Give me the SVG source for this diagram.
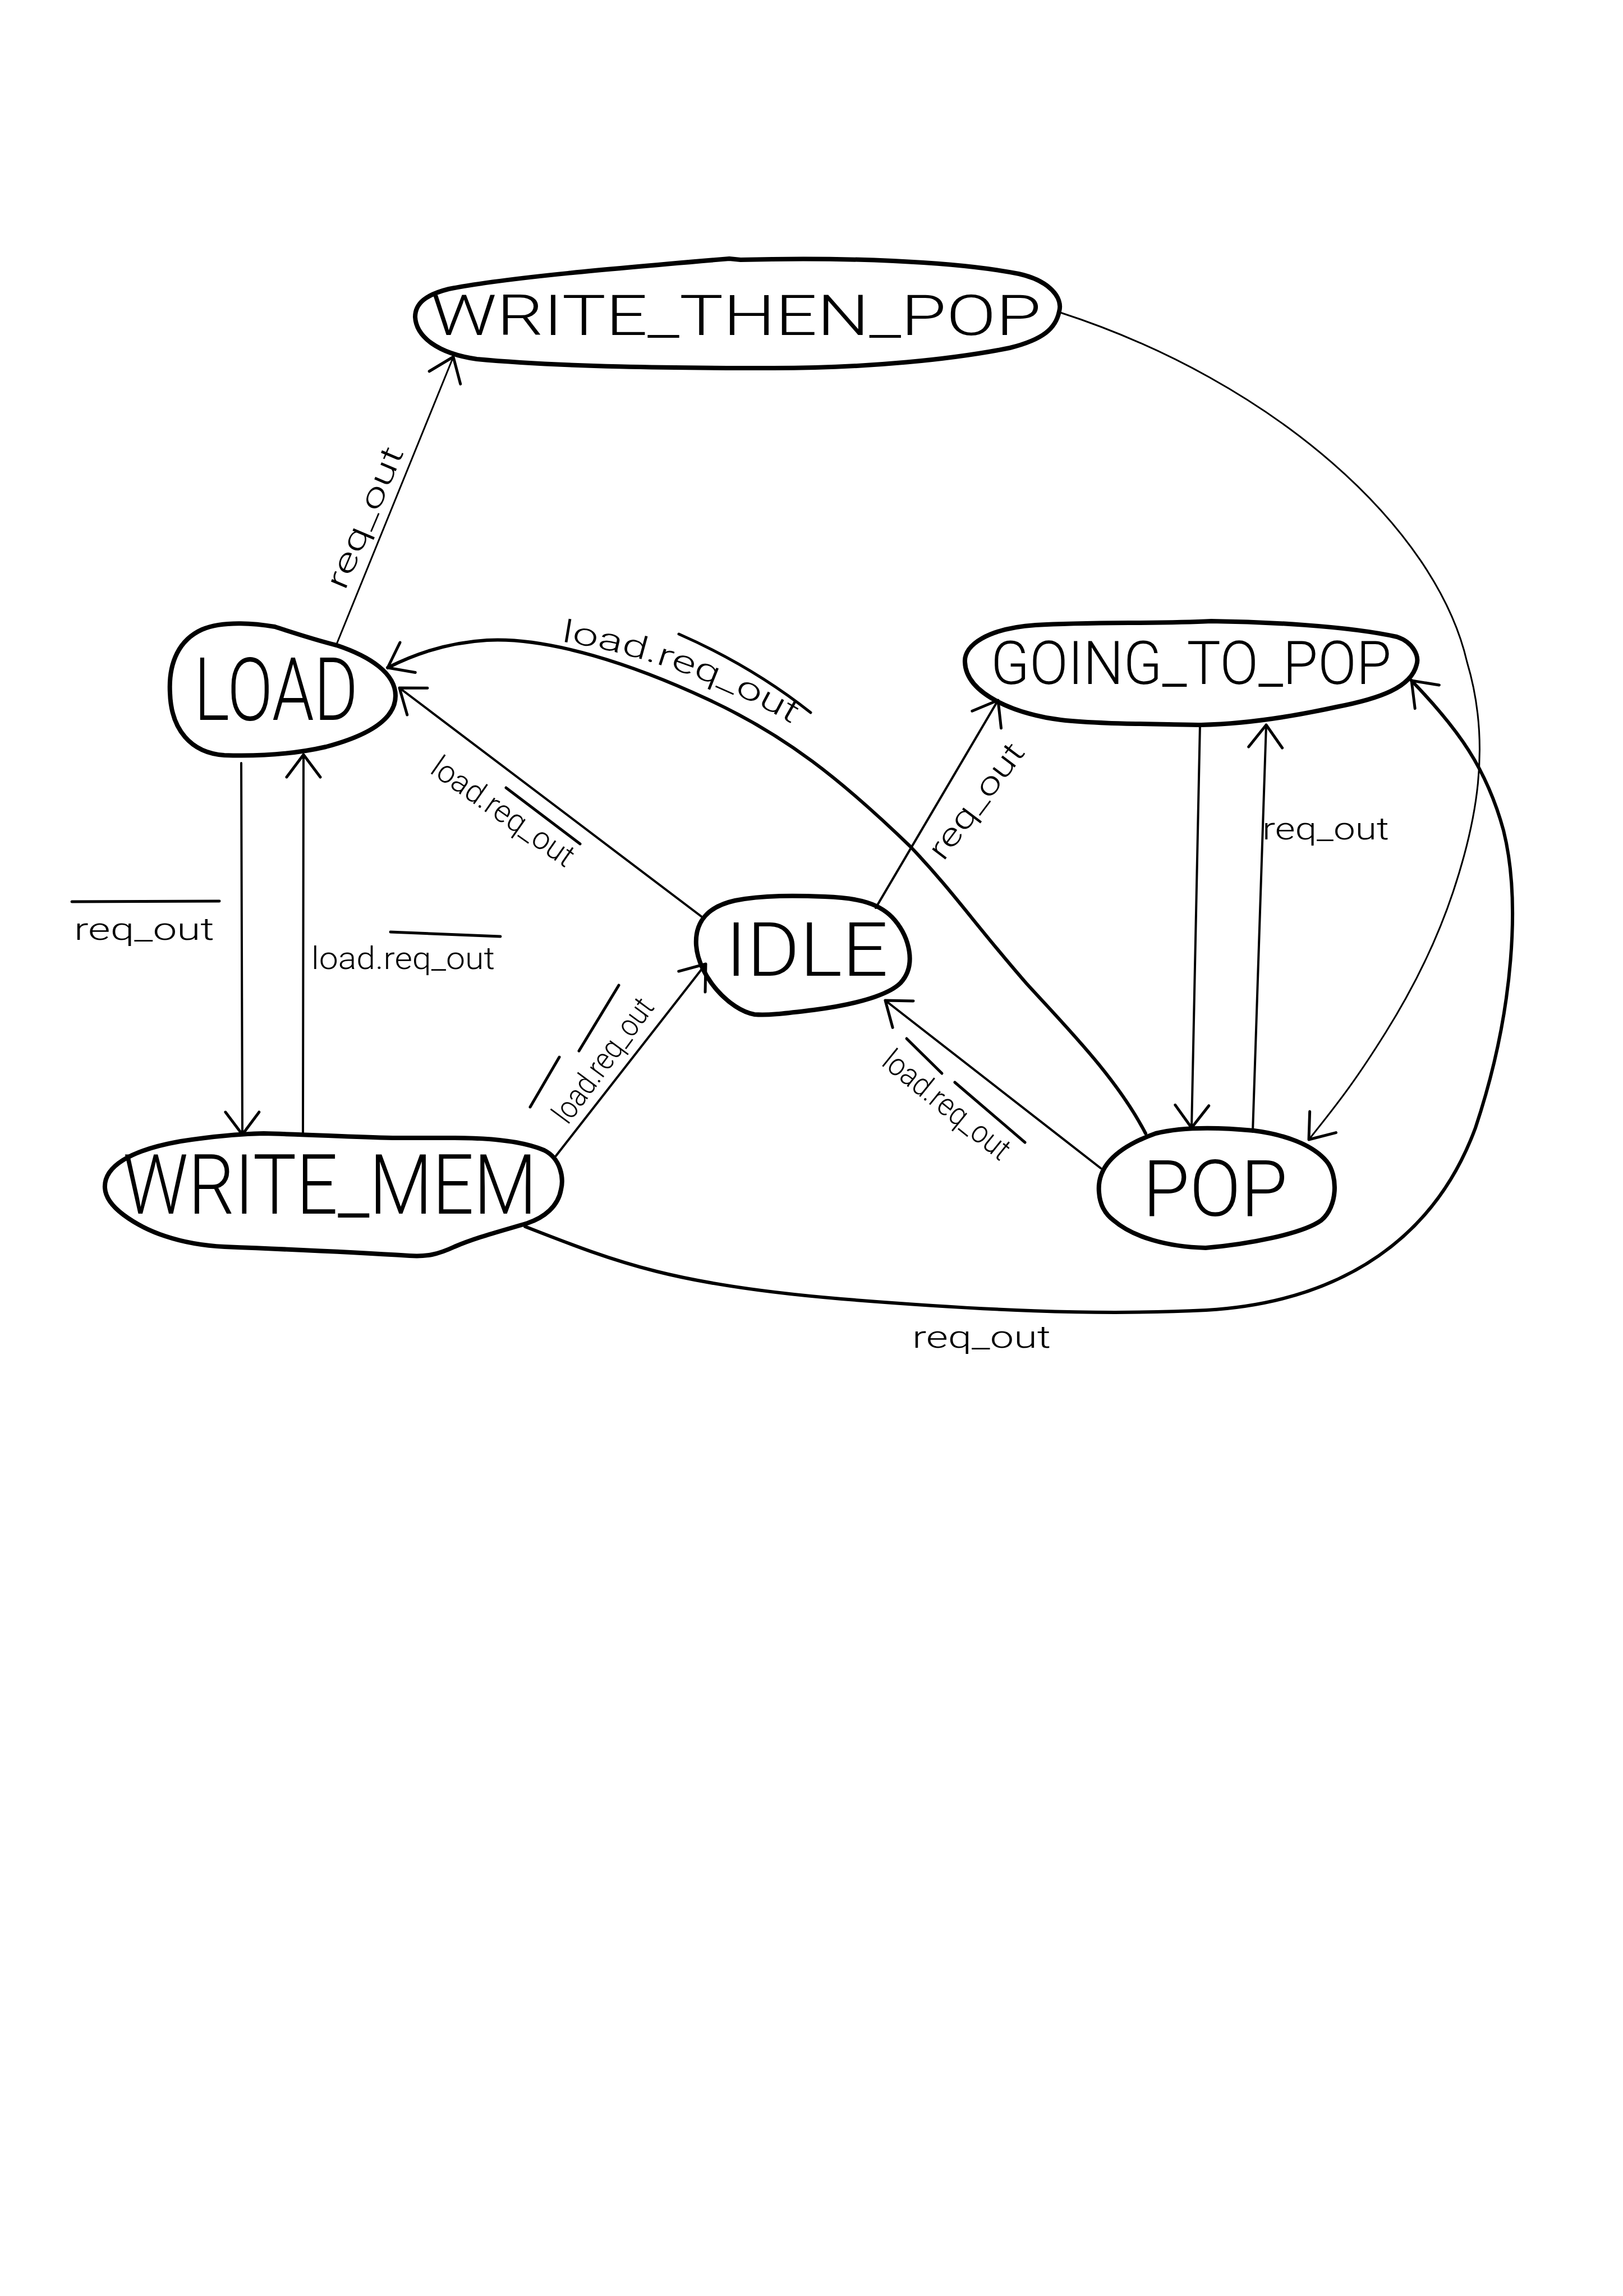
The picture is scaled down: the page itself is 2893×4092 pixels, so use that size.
<svg xmlns="http://www.w3.org/2000/svg" width="2893" height="4092" viewBox="0 0 2893 4092">
<style>
.bg{fill:#fff}
.node path{fill:none;stroke:#000;stroke-width:8;stroke-linejoin:round;stroke-linecap:round}
.nt{font-family:Roboto,"Liberation Sans",sans-serif;font-weight:300;fill:#000}
.edge{fill:none;stroke:#000;stroke-width:4;stroke-linecap:round;marker-end:url(#ah)}
.thick{stroke-width:6}
.thin{stroke-width:3}
.lbl{font-family:Roboto,"Liberation Sans",sans-serif;font-weight:300;font-size:56px;fill:#000}
.ovl{fill:none;stroke:#000;stroke-width:5;stroke-linecap:round}
</style>
<defs>
<marker id="ah" markerUnits="userSpaceOnUse" viewBox="-50 -40 60 80" markerWidth="60" markerHeight="80" refX="0" refY="0" orient="auto" overflow="visible">
<path d="M -40 -30 L 0 0 L -40 30" fill="none" stroke="#000" stroke-width="5" stroke-linecap="round" stroke-linejoin="round"/>
</marker>
<path id="lp1" d="M 1000 1143 Q 1230 1180 1425 1298"/>
</defs>
<rect class="bg" x="0" y="0" width="2893" height="4092"/>

<g id="connectors">
<path id="e-load-wtp" class="edge thin" d="M 600 1148 L 808 636"/>
<path id="e-wtp-pop" class="edge thin" d="M 1890 557 C 2270 680, 2560 940, 2615 1180 C 2660 1330, 2630 1470, 2590 1590 C 2560 1680, 2520 1760, 2470 1840 C 2420 1920, 2390 1960, 2333 2031"/>
<path id="e-wm-going" class="edge thick" d="M 936 2186 C 1100 2250, 1200 2290, 1500 2315 C 1750 2335, 1950 2345, 2150 2335 C 2400 2320, 2560 2200, 2630 2010 C 2700 1800, 2710 1600, 2680 1480 C 2650 1370, 2600 1300, 2516 1213"/>
<path id="e-load-wm" class="edge" d="M 430 1360 L 432 2022"/>
<path id="e-wm-load" class="edge" d="M 540 2020 L 541 1345"/>
<path id="e-idle-load" class="edge" d="M 1255 1637 L 712 1226"/>
<path id="e-pop-load" class="edge thick" d="M 2042 2020 C 1990 1920, 1900 1830, 1829 1752 C 1740 1650, 1700 1590, 1623 1509 C 1500 1390, 1400 1310, 1261 1246 C 1130 1185, 980 1135, 868 1141 C 800 1145, 740 1165, 691 1190"/>
<path id="e-idle-going" class="edge" d="M 1561 1618 L 1779 1248"/>
<path id="e-going-pop" class="edge" d="M 2139 1292 L 2124 2010"/>
<path id="e-pop-going" class="edge" d="M 2233 2017 L 2257 1292"/>
<path id="e-wm-idle" class="edge" d="M 991 2060 L 1258 1718"/>
<path id="e-pop-idle" class="edge" d="M 1962 2082 L 1578 1783"/>
</g>

<g id="labels">
<text class="lbl" font-size="60" textLength="270" lengthAdjust="spacingAndGlyphs" text-anchor="middle" dominant-baseline="central" transform="translate(650 922) rotate(-67)">req_out</text>
<text class="lbl" font-size="70" textLength="440" lengthAdjust="spacingAndGlyphs"><textPath href="#lp1">load.req_out</textPath></text>
<path class="ovl" d="M 1210 1130 Q 1340 1187 1445 1270"/>
<text class="lbl" font-size="48" textLength="298" lengthAdjust="spacingAndGlyphs" transform="translate(764 1376) rotate(35)">load.req_out</text>
<line class="ovl" x1="902" y1="1404" x2="1034" y2="1504"/>
<text class="lbl" font-size="60" textLength="245" lengthAdjust="spacingAndGlyphs" text-anchor="middle" dominant-baseline="central" transform="translate(1740 1427) rotate(-53)">req_out</text>
<text class="lbl" font-size="58" x="132" y="1675" textLength="250" lengthAdjust="spacingAndGlyphs">req_out</text>
<line class="ovl" x1="128" y1="1607" x2="391" y2="1606"/>
<text class="lbl" font-size="58" x="555" y="1727" textLength="327" lengthAdjust="spacingAndGlyphs">load.req_out</text>
<line class="ovl" x1="696" y1="1661" x2="892" y2="1669"/>
<text class="lbl" font-size="58" x="2250" y="1496" textLength="226" lengthAdjust="spacingAndGlyphs">req_out</text>
<text class="lbl" font-size="50" textLength="262" lengthAdjust="spacingAndGlyphs" transform="translate(1012 2006) rotate(-53.5)">load.req_out</text>
<line class="ovl" x1="945" y1="1973" x2="997" y2="1884"/>
<line class="ovl" x1="1032" y1="1873" x2="1103" y2="1756"/>
<text class="lbl" font-size="50" textLength="275" lengthAdjust="spacingAndGlyphs" transform="translate(1569 1897) rotate(39)">load.req_out</text>
<line class="ovl" x1="1616" y1="1851" x2="1679" y2="1913"/>
<line class="ovl" x1="1702" y1="1929" x2="1827" y2="2036"/>
<text class="lbl" font-size="58" x="1626" y="2402" textLength="247" lengthAdjust="spacingAndGlyphs">req_out</text>
</g>

<g id="node-write-then-pop" class="node">
<path d="M 740 565 C 740 540, 760 525, 800 515 C 900 495, 1100 478, 1300 461 L 1320 463 C 1500 458, 1700 465, 1816 488 C 1870 500, 1895 530, 1888 555 C 1882 585, 1860 605, 1800 620 C 1700 640, 1550 656, 1378 656 C 1200 656, 1000 654, 850 640 C 780 630, 742 600, 740 565 Z"/>
<text class="nt" x="768" y="597" font-size="100" textLength="1088" lengthAdjust="spacingAndGlyphs">WRITE_THEN_POP</text>
</g>
<g id="node-load" class="node">
<path d="M 303 1235 C 300 1180, 320 1140, 360 1122 C 400 1105, 460 1112, 490 1117 C 530 1130, 560 1140, 600 1150 C 660 1170, 705 1200, 705 1240 C 705 1280, 660 1310, 581 1331 C 520 1345, 460 1348, 400 1346 C 340 1342, 305 1300, 303 1235 Z"/>
<text class="nt" x="346" y="1283" font-size="156" textLength="292" lengthAdjust="spacingAndGlyphs">LOAD</text>
</g>
<g id="node-going-to-pop" class="node">
<path d="M 1720 1180 C 1718 1150, 1760 1120, 1846 1114 C 1950 1108, 2060 1112, 2159 1107 C 2250 1108, 2400 1115, 2490 1135 C 2520 1145, 2530 1170, 2525 1185 C 2515 1225, 2460 1245, 2382 1260 C 2300 1278, 2220 1290, 2141 1292 C 2040 1290, 1950 1290, 1891 1283 C 1820 1275, 1722 1240, 1720 1180 Z"/>
<text class="nt" x="1766" y="1219" font-size="107" textLength="714" lengthAdjust="spacingAndGlyphs">GOING_TO_POP</text>
</g>
<g id="node-idle" class="node">
<path d="M 1241 1685 C 1238 1640, 1265 1615, 1310 1605 C 1360 1595, 1420 1596, 1470 1598 C 1530 1600, 1570 1610, 1595 1640 C 1620 1670, 1635 1720, 1605 1752 C 1585 1772, 1530 1790, 1450 1800 C 1400 1806, 1370 1810, 1345 1808 C 1300 1800, 1245 1740, 1241 1685 Z"/>
<text class="nt" x="1293" y="1739" font-size="134" textLength="290" lengthAdjust="spacingAndGlyphs">IDLE</text>
</g>
<g id="node-write-mem" class="node">
<path d="M 187 2117 C 185 2080, 230 2050, 322 2034 C 380 2025, 420 2021, 470 2020 C 550 2022, 620 2026, 700 2028 L 810 2028 C 870 2028, 930 2033, 970 2050 C 1000 2065, 1005 2100, 1000 2120 C 995 2150, 970 2170, 940 2180 C 890 2195, 850 2205, 810 2222 C 780 2236, 760 2240, 730 2238 C 650 2233, 500 2226, 400 2222 C 320 2218, 260 2195, 220 2165 C 200 2150, 188 2135, 187 2117 Z"/>
<text class="nt" x="219" y="2163" font-size="148" textLength="738" lengthAdjust="spacingAndGlyphs">WRITE_MEM</text>
</g>
<g id="node-pop" class="node">
<path d="M 1959 2125 C 1955 2080, 1990 2045, 2060 2020 C 2100 2010, 2160 2008, 2235 2015 C 2290 2022, 2340 2040, 2365 2070 C 2385 2095, 2385 2150, 2355 2175 C 2320 2200, 2220 2218, 2149 2224 C 2080 2222, 2020 2205, 1985 2175 C 1965 2160, 1960 2140, 1959 2125 Z"/>
<text class="nt" x="2037" y="2167" font-size="140" textLength="258" lengthAdjust="spacingAndGlyphs">POP</text>
</g>
</svg>
